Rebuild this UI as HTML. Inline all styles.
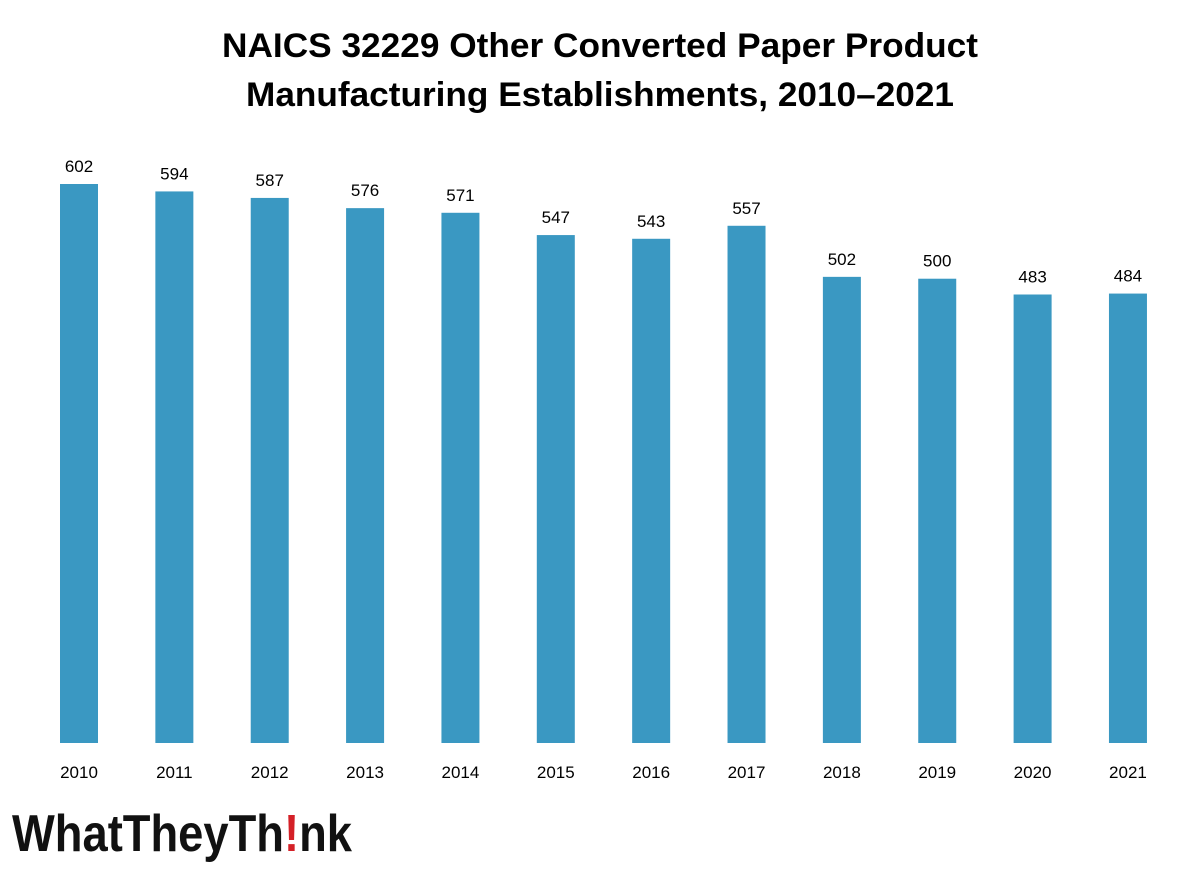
<!DOCTYPE html>
<html><head><meta charset="utf-8"><style>
body{margin:0;background:#fff;}
svg{display:block;font-family:"Liberation Sans",sans-serif;}
</style></head><body>
<svg id="chart" width="1200" height="872" viewBox="0 0 1200 872">
<rect width="1200" height="872" fill="#fff"/>
<text x="600" y="57" text-anchor="middle" font-size="34" font-weight="bold" textLength="756" lengthAdjust="spacingAndGlyphs">NAICS 32229 Other Converted Paper Product</text>
<text x="600" y="106" text-anchor="middle" font-size="34" font-weight="bold" textLength="708" lengthAdjust="spacingAndGlyphs">Manufacturing Establishments, 2010–2021</text>
<g id="bars"></g>
<g>
<text x="12" y="851" font-size="52" font-weight="bold" textLength="340" lengthAdjust="spacingAndGlyphs" fill="#111">WhatTheyTh<tspan fill="#d42027">!</tspan>nk</text>
</g>
</svg>
<script>
const years=["2010","2011","2012","2013","2014","2015","2016","2017","2018","2019","2020","2021"];
const values=[602,594,587,576,571,547,543,557,502,500,483,484];
const x0=60,step=95.36,bw=38,base=743,k=559/602;
const xs=i=>x0+i*step;
const ys=v=>base-v*k;
const g=document.getElementById('bars');
const NS="http://www.w3.org/2000/svg";
years.forEach((yr,i)=>{
  const r=document.createElementNS(NS,'rect');
  
  
  r.setAttribute('x',xs(i));r.setAttribute('y',ys(values[i]));
  r.setAttribute('width',bw);r.setAttribute('height',base-ys(values[i]));
  r.setAttribute('fill','#3a98c2');
  g.appendChild(r);
  const t=document.createElementNS(NS,'text');
  
  
  t.setAttribute('x',xs(i)+bw/2);t.setAttribute('y',ys(values[i])-12);
  t.setAttribute('text-anchor','middle');t.setAttribute('font-size','17');
  t.textContent=values[i];
  g.appendChild(t);
  const l=document.createElementNS(NS,'text');
  
  
  l.setAttribute('x',xs(i)+bw/2);l.setAttribute('y',778);
  l.setAttribute('text-anchor','middle');l.setAttribute('font-size','17');
  l.textContent=yr;
  g.appendChild(l);
});
</script>
</body></html>
